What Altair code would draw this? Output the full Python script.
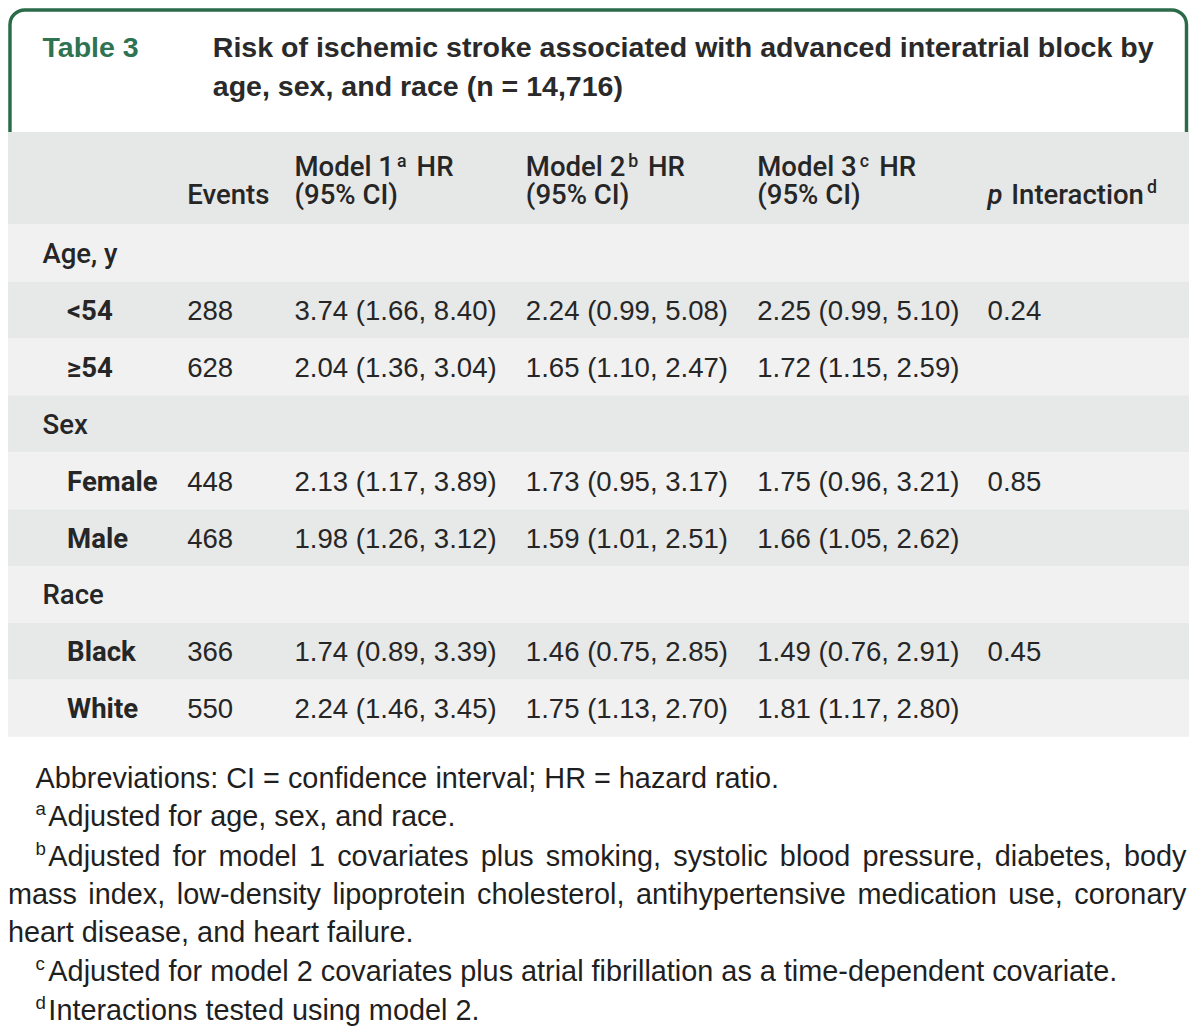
import altair as alt
import pandas as pd

# ---------------- data ----------------
title_tag = "Table 3"
title_lines = ["Risk of ischemic stroke associated with advanced interatrial block by",
               "age, sex, and race (n = 14,716)"]
header_models = ["Model 1", "Model 2", "Model 3"]
header_sups = ["a", "b", "c"]
groups = ["Age, y", "Sex", "Race"]
subgroups = ["<54", "\u226554", "Female", "Male", "Black", "White"]
events = ["288", "628", "448", "468", "366", "550"]
model1 = ["3.74 (1.66, 8.40)", "2.04 (1.36, 3.04)", "2.13 (1.17, 3.89)",
          "1.98 (1.26, 3.12)", "1.74 (0.89, 3.39)", "2.24 (1.46, 3.45)"]
model2 = ["2.24 (0.99, 5.08)", "1.65 (1.10, 2.47)", "1.73 (0.95, 3.17)",
          "1.59 (1.01, 2.51)", "1.46 (0.75, 2.85)", "1.75 (1.13, 2.70)"]
model3 = ["2.25 (0.99, 5.10)", "1.72 (1.15, 2.59)", "1.75 (0.96, 3.21)",
          "1.66 (1.05, 2.62)", "1.49 (0.76, 2.91)", "1.81 (1.17, 2.80)"]
p_interaction = ["0.24", "", "0.85", "", "0.45", ""]
abbrev = "Abbreviations: CI = confidence interval; HR = hazard ratio."
note_a = "Adjusted for age, sex, and race."
note_b1 = "Adjusted for model 1 covariates plus smoking, systolic blood pressure, diabetes, body"
note_b2 = "mass index, low-density lipoprotein cholesterol, antihypertensive medication use, coronary"
note_b3 = "heart disease, and heart failure."
note_c = "Adjusted for model 2 covariates plus atrial fibrillation as a time-dependent covariate."
note_d = "Interactions tested using model 2."

# ---------------- layout / style ----------------
S = 1020 / 1036
W, H = 1200 * S, 1020
GREEN = "#2b6b49"
GREEN_TXT = "#2e7352"
TXT = "#262626"
HEAD_BG = "#e6e7e7"
DARK = "#e7e8e8"
LIGHT = "#f1f1f1"

xs = alt.Scale(domain=[0, 1200], range=[0, W], nice=False, zero=False)
ys = alt.Scale(domain=[0, 1036], range=[0, H], nice=False, zero=False)

COL_GROUP, COL_SUB, COL_EV = 35, 60, 182
COL_M = [291, 526, 761]
COL_P = 995
ROW_TOP0, ROW_H = 220, 57.8
BASE_OFF = 39
HEAD_B1, HEAD_B2 = 171, 199

ARIAL = {' ': 278, '!': 278, '%': 889, '(': 333, ')': 333, ',': 278, '-': 333, '.': 278,
         ':': 278, ';': 278, '=': 584,
         'A': 667, 'B': 667, 'C': 722, 'D': 722, 'E': 667, 'F': 611, 'G': 778, 'H': 722,
         'I': 278, 'J': 500, 'K': 667, 'L': 556, 'M': 833, 'N': 722, 'O': 778, 'P': 667,
         'R': 722, 'S': 667, 'T': 611, 'U': 722, 'W': 944,
         'a': 556, 'b': 556, 'c': 500, 'd': 556, 'e': 556, 'f': 278, 'g': 556, 'h': 556,
         'i': 222, 'j': 222, 'k': 500, 'l': 222, 'm': 833, 'n': 556, 'o': 556, 'p': 556,
         'q': 556, 'r': 333, 's': 500, 't': 278, 'u': 556, 'v': 500, 'w': 722, 'x': 500,
         'y': 500, 'z': 500}


def tw(s, size):
    return sum(ARIAL.get(c, 556) for c in s) * size / 1000.0


def justify(line, x0, x1, size, y):
    words = line.split(" ")
    widths = [tw(w, size) for w in words]
    gap = (x1 - x0 - sum(widths)) / (len(words) - 1)
    rows, x = [], x0
    for w, wd in zip(words, widths):
        rows.append({"x": x, "y": y, "t": w})
        x += wd + gap
    return rows


def enc():
    return dict(x=alt.X("x:Q", scale=xs, axis=None), y=alt.Y("y:Q", scale=ys, axis=None),
                text=alt.Text("t:N"))


def text_layer(rows, font, size, weight="normal", color=TXT, style="normal"):
    return alt.Chart(pd.DataFrame(rows)).mark_text(
        font=font, fontSize=size * S, fontWeight=weight, fontStyle=style, color=color,
        align="left", baseline="alphabetic").encode(**enc())


# frame
frame = alt.Chart(pd.DataFrame({"x": [2], "x2": [1197], "y": [2], "y2": [170]})).mark_rect(
    cornerRadius=15 * S, fill="white", stroke=GREEN, strokeWidth=3.5 * S).encode(
    x=alt.X("x:Q", scale=xs, axis=None), x2="x2:Q",
    y=alt.Y("y:Q", scale=ys, axis=None), y2="y2:Q")

# bands
band_rows = [{"x": 0, "x2": 1200, "y": 126, "y2": ROW_TOP0, "c": HEAD_BG}]
n_rows = len(groups) + len(subgroups)
for i in range(n_rows):
    band_rows.append({"x": 0, "x2": 1200, "y": ROW_TOP0 + i * ROW_H,
                      "y2": ROW_TOP0 + (i + 1) * ROW_H, "c": LIGHT if i % 2 == 0 else DARK})
bands = alt.Chart(pd.DataFrame(band_rows)).mark_rect().encode(
    x=alt.X("x:Q", scale=xs, axis=None), x2="x2:Q",
    y=alt.Y("y:Q", scale=ys, axis=None), y2="y2:Q",
    color=alt.Color("c:N", scale=None))

# title
title_tag_l = text_layer([{"x": 35, "y": 50, "t": title_tag}], "Liberation Sans", 29, "bold", GREEN_TXT)
title_l = text_layer([{"x": 208, "y": 50, "t": title_lines[0]},
                      {"x": 208, "y": 89, "t": title_lines[1]}], "Liberation Sans", 29, "bold", "#2a2a2a")

# header
head_rows = [{"x": COL_EV, "y": HEAD_B2, "t": "Events"}]
sup_rows = []
for cx, m, sp in zip(COL_M, header_models, header_sups):
    head_rows.append({"x": cx, "y": HEAD_B1, "t": m})
    head_rows.append({"x": cx + 124, "y": HEAD_B1, "t": "HR"})
    head_rows.append({"x": cx, "y": HEAD_B2, "t": "(95% CI)"})
    sup_rows.append({"x": cx + 104, "y": HEAD_B1 - 10, "t": sp})
head_rows.append({"x": COL_P + 24, "y": HEAD_B2, "t": "Interaction"})
sup_rows.append({"x": COL_P + 162, "y": HEAD_B2 - 11, "t": "d"})
head_l = text_layer(head_rows, "Roboto", 28, 500)
head_sup_l = text_layer(sup_rows, "Roboto", 18, 500)
head_p_l = text_layer([{"x": COL_P, "y": HEAD_B2, "t": "p"}], "Roboto", 28, 500, style="italic")

# body
grp_rows, sub_rows, num_rows = [], [], []
for g, gname in enumerate(groups):
    r0 = 3 * g
    grp_rows.append({"x": COL_GROUP, "y": ROW_TOP0 + r0 * ROW_H + BASE_OFF, "t": gname})
    for k in range(2):
        j = 2 * g + k
        y = ROW_TOP0 + (r0 + 1 + k) * ROW_H + BASE_OFF
        sub_rows.append({"x": COL_SUB, "y": y, "t": subgroups[j]})
        num_rows.append({"x": COL_EV, "y": y, "t": events[j]})
        for cx, vals in zip(COL_M, [model1, model2, model3]):
            num_rows.append({"x": cx, "y": y, "t": vals[j]})
        if p_interaction[j]:
            num_rows.append({"x": COL_P, "y": y, "t": p_interaction[j]})
grp_l = text_layer(grp_rows, "Roboto", 28, 500)
sub_l = text_layer(sub_rows, "Roboto", 28, "bold")
num_l = text_layer(num_rows, "Liberation Sans", 28)

# footnotes
FN = 29.3
fb = [792, 831, 871, 910, 949, 988, 1028]
fn_rows = [{"x": 28, "y": fb[0], "t": abbrev},
           {"x": 41, "y": fb[1], "t": note_a},
           {"x": 0, "y": fb[4], "t": note_b3},
           {"x": 41, "y": fb[5], "t": note_c},
           {"x": 41, "y": fb[6], "t": note_d}]
fn_rows += justify(note_b1, 41, 1197, FN, fb[2])
fn_rows += justify(note_b2, 0, 1197, FN, fb[3])
fn_l = text_layer(fn_rows, "Liberation Sans", FN, "normal", "#1f1f1f")
fn_sup = text_layer([{"x": 28, "y": fb[1] - 11, "t": "a"},
                     {"x": 28, "y": fb[2] - 11, "t": "b"},
                     {"x": 28, "y": fb[5] - 11, "t": "c"},
                     {"x": 28, "y": fb[6] - 11, "t": "d"}], "Liberation Sans", 19, "normal", "#1f1f1f")

chart = alt.layer(frame, bands, title_tag_l, title_l, head_l, head_sup_l, head_p_l,
                  grp_l, sub_l, num_l, fn_l, fn_sup).properties(
    width=W, height=H, padding=0, autosize=alt.AutoSizeParams(type="none"),
    background="white"
).configure_view(stroke=None)

chart.save("out.html", embed_options={"renderer": "svg", "actions": False})
